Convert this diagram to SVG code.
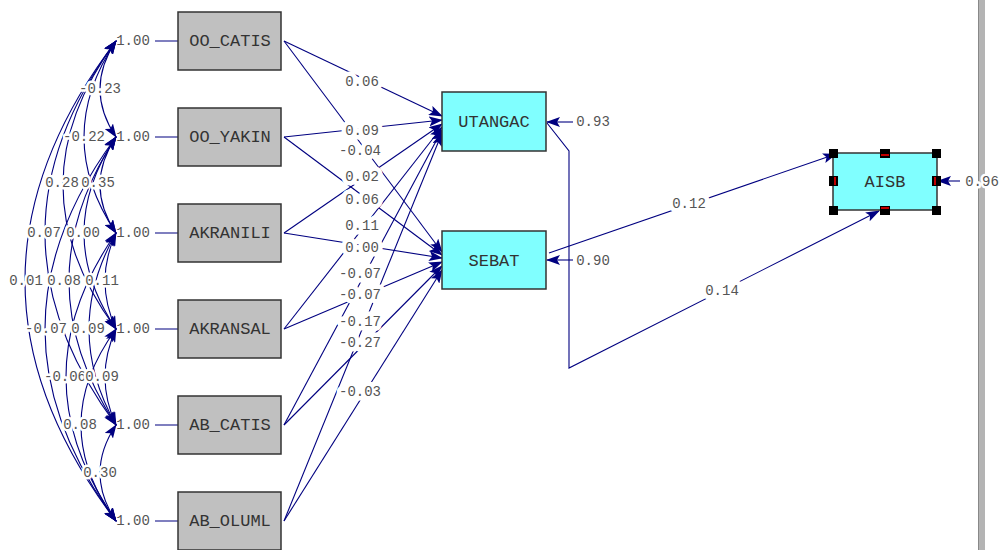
<svg xmlns="http://www.w3.org/2000/svg" width="1006" height="550" viewBox="0 0 1006 550">
<defs>
<marker id="ah" markerUnits="userSpaceOnUse" markerWidth="14" markerHeight="10" refX="13" refY="5" orient="auto-start-reverse" viewBox="0 0 14 10">
<path d="M0,0 L14,5 L0,10 L3,5 z" fill="#000080"/>
</marker>
<style>
.ln{fill:none;stroke:#000080;stroke-width:1.1}
.cv{fill:none;stroke:#000080;stroke-width:1.1;marker-start:url(#ah);marker-end:url(#ah)}
.ar{fill:none;stroke:#000080;stroke-width:1.1;marker-end:url(#ah)}
.lb{font-family:"Liberation Mono","DejaVu Sans Mono",monospace;font-size:14px;fill:#555;text-anchor:middle;dominant-baseline:central}
.hl{stroke:#fff;stroke-width:5;paint-order:stroke;stroke-linejoin:round}
.hw{stroke:#fff;stroke-width:9;paint-order:stroke;stroke-linejoin:round}
.gx{fill:#c0c0c0;stroke:#333;stroke-width:1.5}
.cx{fill:#80ffff;stroke:#333;stroke-width:1.5}
.nt{font-family:"Liberation Mono","DejaVu Sans Mono",monospace;font-size:17px;fill:#333;text-anchor:middle;dominant-baseline:central}
.hd{fill:#000}
.rd{fill:#c00000}
</style>
</defs>
<rect width="1006" height="550" fill="#fff"/>
<rect x="978" y="0" width="7" height="550" fill="#b4b4b4"/>
<line x1="978.5" y1="0" x2="978.5" y2="550" stroke="#888" stroke-width="1"/>

<g id="var-labels">
<text class="lb" x="133" y="41">1.00</text>
<text class="lb" x="133" y="137">1.00</text>
<text class="lb" x="133" y="233">1.00</text>
<text class="lb" x="133" y="329">1.00</text>
<text class="lb" x="133" y="425">1.00</text>
<text class="lb" x="133" y="521">1.00</text>
</g>

<g id="connectors">
<path class="ln" d="M155,41H178M155,137H178M155,233H178M155,329H178M155,425H178M155,521H178"/>
<path class="cv" d="M116,41 Q84,89 116,137"/>
<path class="cv" d="M116,137 Q84,185 116,233"/>
<path class="cv" d="M116,233 Q94,281 116,329"/>
<path class="cv" d="M116,329 Q94,377 116,425"/>
<path class="cv" d="M116,425 Q84,473 116,521"/>
<path class="cv" d="M116,41 Q52,137 116,233"/>
<path class="cv" d="M116,137 Q52,233 116,329"/>
<path class="cv" d="M116,233 Q62,329 116,425"/>
<path class="cv" d="M116,329 Q46,425 116,521"/>
<path class="cv" d="M116,41 Q10,185 116,329"/>
<path class="cv" d="M116,137 Q22,281 116,425"/>
<path class="cv" d="M116,233 Q16,377 116,521"/>
<path class="cv" d="M116,41 Q-26,233 116,425"/>
<path class="cv" d="M116,137 Q-26,329 116,521"/>
<path class="cv" d="M116,41 Q-66,281 116,521"/>
<path class="ar" d="M284,41 L442,116"/>
<path class="ar" d="M284,137 L442,120"/>
<path class="ar" d="M284,233 L442,124"/>
<path class="ar" d="M284,329 L442,127"/>
<path class="ar" d="M284,425 L442,130"/>
<path class="ar" d="M284,521 L442,133"/>
<path class="ar" d="M284,41 L442,252"/>
<path class="ar" d="M284,137 L442,255"/>
<path class="ar" d="M284,233 L442,258"/>
<path class="ar" d="M284,329 L442,262"/>
<path class="ar" d="M284,425 L442,266"/>
<path class="ar" d="M284,521 L442,270"/>
<path class="ar" d="M549,253 L836,154"/>
<path class="ar" d="M547,123 L569,151 L569,368 L879,211"/>
<path class="ar" d="M573,122 L547,122"/>
<path class="ar" d="M573,260 L547,260"/>
<path class="ar" d="M960,181 L938,181"/>
</g>

<g id="coef-labels">
<text class="lb hl" x="100" y="89">-0.23</text>
<text class="lb hl" x="84" y="137">-0.22</text>
<text class="lb hl" x="62" y="183">0.28</text>
<text class="lb hl" x="98" y="183">0.35</text>
<text class="lb hl" x="44" y="233">0.07</text>
<text class="lb hl" x="83" y="233">0.00</text>
<text class="lb hl" x="26" y="281">0.01</text>
<text class="lb hl" x="64" y="281">0.08</text>
<text class="lb hl" x="102" y="281">0.11</text>
<text class="lb hl" x="46" y="329">-0.07</text>
<text class="lb hl" x="88" y="329">0.09</text>
<text class="lb hl" x="65" y="377">-0.06</text>
<text class="lb hl" x="102" y="377">0.09</text>
<text class="lb hl" x="80" y="425">0.08</text>
<text class="lb hl" x="100" y="473">0.30</text>

<text class="lb hw" x="362" y="82">0.06</text>
<text class="lb hw" x="362" y="131">0.09</text>
<text class="lb hw" x="360" y="151">-0.04</text>
<text class="lb hw" x="362" y="177">0.02</text>
<text class="lb hw" x="362" y="200">0.06</text>
<text class="lb hw" x="362" y="226">0.11</text>
<text class="lb hw" x="362" y="248">0.00</text>
<text class="lb hw" x="360" y="274">-0.07</text>
<text class="lb hw" x="360" y="295">-0.07</text>
<text class="lb hw" x="360" y="322">-0.17</text>
<text class="lb hw" x="360" y="343">-0.27</text>
<text class="lb hw" x="360" y="392">-0.03</text>

<text class="lb hw" x="689" y="204">0.12</text>
<text class="lb hw" x="722" y="291">0.14</text>
<text class="lb hl" x="593" y="122">0.93</text>
<text class="lb hl" x="593" y="261">0.90</text>
<text class="lb hl" x="982" y="182">0.96</text>
</g>

<g id="OO_CATIS"><rect class="gx" x="178" y="12" width="103" height="58"/><text class="nt" x="230" y="41">OO_CATIS</text></g>
<g id="OO_YAKIN"><rect class="gx" x="178" y="108" width="103" height="58"/><text class="nt" x="230" y="137">OO_YAKIN</text></g>
<g id="AKRANILI"><rect class="gx" x="178" y="204" width="103" height="58"/><text class="nt" x="230" y="233">AKRANILI</text></g>
<g id="AKRANSAL"><rect class="gx" x="178" y="300" width="103" height="58"/><text class="nt" x="230" y="329">AKRANSAL</text></g>
<g id="AB_CATIS"><rect class="gx" x="178" y="396" width="103" height="58"/><text class="nt" x="230" y="425">AB_CATIS</text></g>
<g id="AB_OLUML"><rect class="gx" x="178" y="492" width="103" height="58"/><text class="nt" x="230" y="521">AB_OLUML</text></g>

<g id="UTANGAC"><rect class="cx" x="442" y="92" width="104" height="59"/><text class="nt" x="494" y="122">UTANGAC</text></g>
<g id="SEBAT"><rect class="cx" x="442" y="231" width="104" height="58"/><text class="nt" x="494" y="261">SEBAT</text></g>
<g id="AISB">
<rect class="cx" x="833" y="153" width="104" height="57"/><text class="nt" x="885" y="182">AISB</text>
<rect class="hd" x="829" y="149" width="9" height="9"/>
<rect class="hd" x="932" y="149" width="9" height="9"/>
<rect class="hd" x="829" y="206" width="9" height="9"/>
<rect class="hd" x="932" y="206" width="9" height="9"/>
<rect class="hd" x="880" y="149" width="10" height="9"/><rect class="rd" x="881" y="154" width="8" height="2"/>
<rect class="hd" x="880" y="206" width="10" height="9"/><rect class="rd" x="881" y="207" width="8" height="2"/>
<rect class="hd" x="829" y="176" width="9" height="10"/><rect class="rd" x="834" y="177" width="2" height="8"/>
<rect class="hd" x="932" y="176" width="9" height="10"/><rect class="rd" x="934" y="177" width="2" height="8"/>
</g>
</svg>
